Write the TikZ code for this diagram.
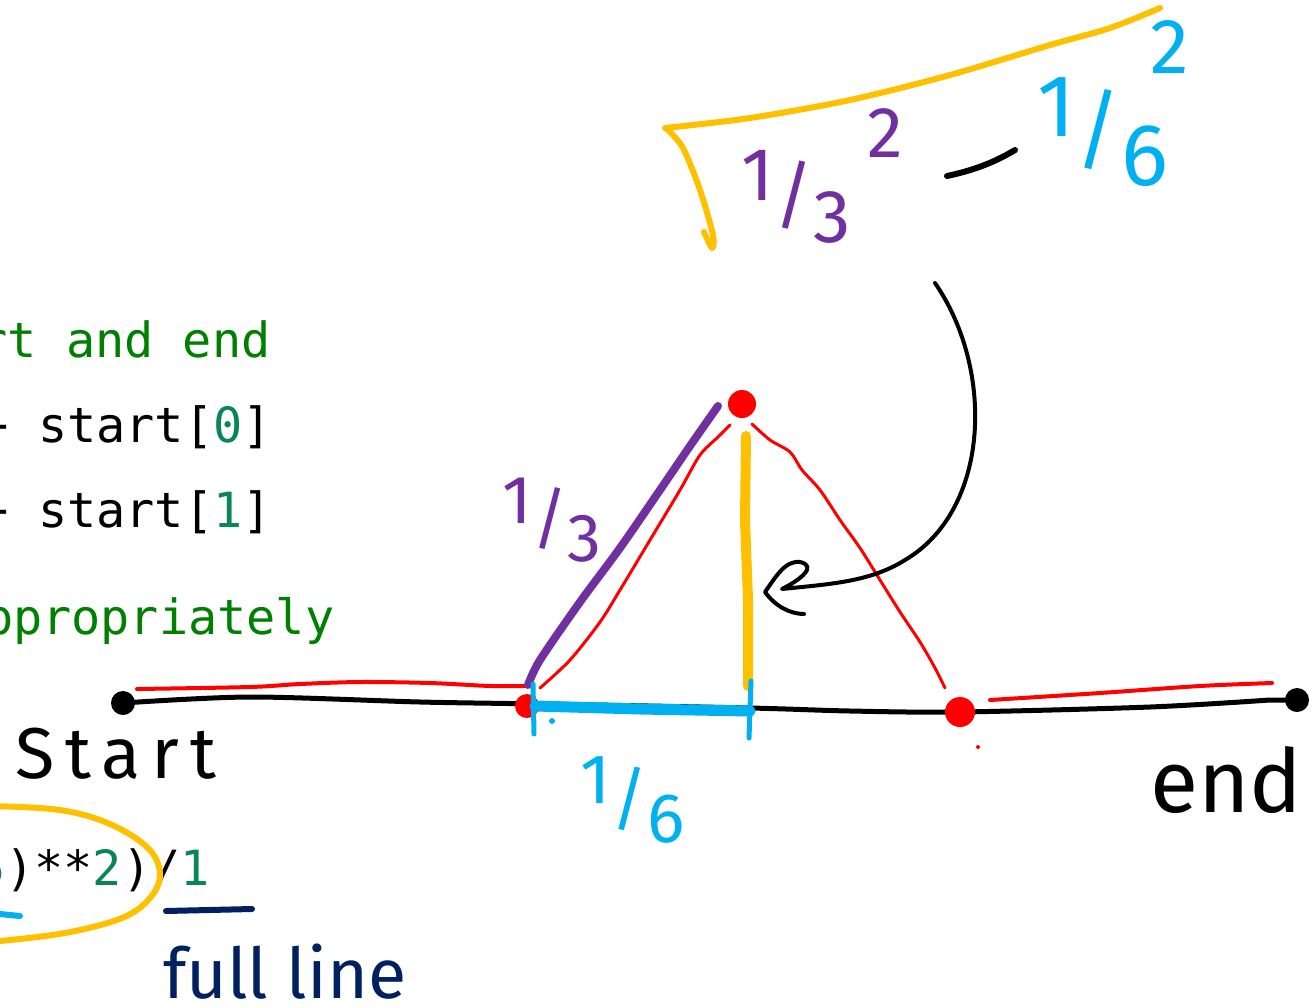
\documentclass[tikz,border=0pt]{standalone}
\usepackage{fontspec}
\newfontfamily\codefont{DejaVu Sans Mono}
\newfontfamily\handfont{Fira Sans}
\usetikzlibrary{arrows.meta}
\definecolor{cmt}{HTML}{008000}
\definecolor{num}{HTML}{098658}
\definecolor{hred}{HTML}{FF0000}
\definecolor{hyel}{HTML}{FFC000}
\definecolor{hblue}{HTML}{00B0F0}
\definecolor{hpurp}{HTML}{7030A0}
\definecolor{hnavy}{HTML}{002060}
\newcommand\hfr[2]{\raisebox{0.28em}{#1}/\raisebox{-0.28em}{#2}}
\tikzset{
  code/.style={font=\codefont\fontsize{48.5}{56}\selectfont, anchor=base west, inner sep=0pt},
  pen/.style={line width=#1, line cap=round, line join=round},
  hand/.style={font=\handfont\fontsize{#1}{#1}\selectfont, inner sep=0pt},
  dot/.style={circle, fill=#1, inner sep=0pt},
}
\begin{document}
\begin{tikzpicture}[x=1pt,y=-1pt]
\useasboundingbox (0,0) rectangle (1314,1007);
\clip (0,0) rectangle (1314,1007);
% code text
\node[code, text=cmt] (c1) at (-21.6,357) {rt and end};
\node[code] (c2) at (-20.4,442) {+ start[{\color{num}0}]};
\node[code] (c3) at (-20.4,527) {+ start[{\color{num}1}]};
\node[code, text=cmt] (c4) at (-16.2,634) {ppropriately};
\node[code] (c5) at (-24,885) {{\color{num}5})**{\color{num}2})/{\color{num}1}};
% yellow ellipse around code
\draw[pen=6pt, hyel] plot[smooth, tension=0.6] coordinates {(-10,806) (60,810) (110,824) (148,848) (160,874) (150,898) (122,918) (65,933) (0,941)};
\draw[pen=6pt, hblue] (0,914) -- (20,916);
\draw[pen=6pt, hnavy] (166,911) -- (252,909);
\node[hand=70, text=hnavy, anchor=base west] (full) at (163,998) {full line};
% number line
\node[dot=black, minimum size=24pt] (s) at (123,703) {};
\node[dot=black, minimum size=24pt] (e) at (1297,700) {};
\draw[pen=5pt] (s.center) plot[smooth] coordinates {(123,703) (250,697) (420,702) (540,704) (750,708) (850,711) (960,712) (1150,707) (1270,700)} -- (e.center);
% red line above
\draw[pen=4pt, hred] plot[smooth] coordinates {(137,689) (250,687) (300,684) (360,682) (430,683) (490,686) (525,686)};
\draw[pen=4pt, hred] plot[smooth] coordinates {(990,700) (1100,693) (1200,686) (1272,683)};
% red dots
\node[dot=hred, minimum size=24pt] (p1) at (527,706) {};
\node[dot=hred, minimum size=28pt] (top) at (742,404) {};
\node[dot=hred, minimum size=30pt] (p3) at (960,712) {};
\node[dot=hred, minimum size=4pt] (p4) at (978,747) {};
% red triangle
\draw[pen=3pt, hred] plot[smooth] coordinates {(540,688) (570,660) (600,622) (620,590) (650,540) (680,490) (700,455) (718,437) (730,425)};
\draw[pen=3pt, hred] plot[smooth] coordinates {(752,424) (770,440) (790,452) (802,470) (820,490) (840,520) (860,548) (880,580) (900,612) (920,642) (935,668) (945,688)};
% purple side
\draw[pen=8pt, hpurp] plot[smooth] coordinates {(528,685) (540,660) (580,602) (620,548) (660,490) (690,446) (718,406)};
\node[hand=68, text=hpurp] (l13) at (552,520) {\hfr{1}{3}};
% yellow height
\draw[pen=10pt, hyel] (746,436) -- (745,520) -- (748,600) -- (748,686);
% blue base
\draw[pen=11pt, hblue] (535,706) -- (640,709) -- (750,711);
\draw[pen=5pt, hblue] (533,684) -- (534,734);
\draw[pen=5pt, hblue] (751,681) -- (749,738);
\node[dot=hblue, minimum size=6pt] (bd) at (552,721) {};
\node[hand=70, text=hblue] (l16) at (633,800) {\hfr{1}{6}};
% labels
\node[hand=72, anchor=base west] (start) at (15,778) {\addfontfeature{LetterSpace=15}Start};
\node[hand=88, anchor=base west] (end) at (1150,812) {end};
% radical formula
\draw[pen=6pt, hyel] plot[smooth, tension=0.5] coordinates {(704,232) (712,248) (713,235) (700,190) (683,148) (668,130)} -- (665,128)
  plot[smooth] coordinates {(665,128) (750,118) (850,100) (950,75) (1050,45) (1110,28) (1160,8)};
\node[hand=75, text=hpurp] (r13) at (796,197) {\hfr{1}{3}};
\node[hand=72, text=hpurp] (r2a) at (885,133) {2};
\draw[pen=6pt] (947,176) .. controls (975,170) and (995,162) .. (1015,150);
\node[hand=88, text=hblue] (r16) at (1103,132) {\hfr{1}{6}};
\node[hand=78, text=hblue] (r2b) at (1170,47) {2};
% arrow
\coordinate (aS) at (935,283);
\coordinate (aM) at (905,560);
\coordinate (aE) at (782,589);
\draw[pen=4pt] (aS) .. controls (995,370) and (990,510) .. (aM) .. controls (870,582) and (830,584) .. (aE)
  .. controls (800,580) and (818,566) .. (800,562) .. controls (785,560) and (775,578) .. (765,592)
  .. controls (775,606) and (790,614) .. (804,614);
\end{tikzpicture}
\end{document}
